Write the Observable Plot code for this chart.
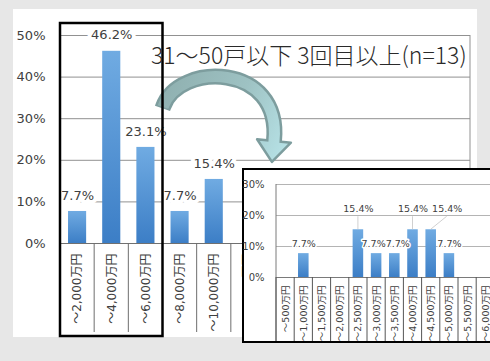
<!DOCTYPE html>
<html><head><meta charset="utf-8">
<script src="https://cdn.jsdelivr.net/npm/d3@7"></script>
<script src="https://cdn.jsdelivr.net/npm/@observablehq/plot@0.6"></script>
<style>
html,body{margin:0;padding:0;background:#e7e7e7;}
#wrap{position:relative;width:490px;height:361px;overflow:hidden;background:#e7e7e7;}
#panel{position:absolute;left:13px;top:9px;width:464px;height:328px;background:#fff;}
#main{position:absolute;left:0;top:0;}
#title{position:absolute;left:151px;top:42px;font:300 23px/24px "Noto Sans CJK JP",sans-serif;color:#2a2a2a;white-space:nowrap;}
#inset{position:absolute;left:242px;top:168px;width:260px;height:175px;box-sizing:border-box;border:2px solid #000;background:#fff;}
#inset svg{display:block;}
</style></head><body>
<div id="wrap"><div id="panel"></div><div id="main"></div><div id="title"></div><div id="inset"></div></div>
<script>
// ---- data ----
const titleText = "31～50戸以下 3回目以上(n=13)";
const mainCategories = ["～2,000万円","～4,000万円","～6,000万円","～8,000万円","～10,000万円","～12,000万円","～14,000万円","～16,000万円","～18,000万円","～20,000万円","～22,000万円","22,000万円超"];
const mainValues = [7.7, 46.2, 23.1, 7.7, 15.4, 0, 0, 0, 0, 0, 0, 0];
const mainTicks = [0, 10, 20, 30, 40, 50];
const insetCategories = ["～500万円","～1,000万円","～1,500万円","～2,000万円","～2,500万円","～3,000万円","～3,500万円","～4,000万円","～4,500万円","～5,000万円","～5,500万円","～6,000万円"];
const insetValues = [0, 7.7, 0, 0, 15.4, 7.7, 7.7, 15.4, 15.4, 7.7, 0, 0];
const insetTicks = [0, 10, 20, 30];

// ---- styling ----
const FONT = '"DejaVu Sans","Noto Sans CJK JP",sans-serif';
const pct = v => v.toFixed(1) + "%";
// label nudges in the inset (pixels): [dx, dy]
const insetLabelNudge = {"～3,000万円": [-3, -10], "～3,500万円": [3, -10], "～4,500万円": [16, -21]};
const insetDefaultDy = v => (v >= 10 ? -21 : -10);

document.getElementById("title").textContent = titleText;

function gradientDefs(id, top, bottom) {
  return () => {
    const defs = d3.create("svg:defs");
    const g = defs.append("linearGradient").attr("id", id)
      .attr("x1", 0).attr("y1", 0).attr("x2", 0).attr("y2", 1);
    g.append("stop").attr("offset", "0%").attr("stop-color", top);
    g.append("stop").attr("offset", "100%").attr("stop-color", bottom);
    return defs.node();
  };
}

function bandInfo(xs, cats, pad) {
  let step = xs.step, bw = xs.bandwidth;
  if (step == null) step = xs.apply(cats[1]) - xs.apply(cats[0]);
  if (bw == null) bw = step * (1 - pad);
  const bounds = cats.map(c => xs.apply(c) - (step - bw) / 2);
  bounds.push(bounds[bounds.length - 1] + step);
  return {step, bw, bounds};
}

// ---- main chart ----
const mainRows = mainCategories.map((c, i) => ({cat: c, value: mainValues[i]}));
const MAIN_PAD = 0.47;
const mainPlot = Plot.plot({
  width: 490, height: 361,
  marginLeft: 60, marginRight: 20, marginTop: 35, marginBottom: 118,
  style: {background: "transparent", fontFamily: FONT, fontSize: "13px", color: "#404040", overflow: "visible"},
  x: {domain: mainCategories, paddingInner: MAIN_PAD, paddingOuter: MAIN_PAD / 2, round: false, label: null},
  y: {domain: [0, 50], label: null},
  marks: [
    gradientDefs("mainBar", "#70abe2", "#3c7ec6"),
    Plot.gridY(mainTicks, {stroke: "#919191", strokeOpacity: 1}),
    Plot.barY(mainRows, {x: "cat", y: "value", fill: "url(#mainBar)"}),
    Plot.ruleY([0], {stroke: "#707070"}),
    Plot.text(mainRows.filter(d => d.value > 0), {x: "cat", y: "value", text: d => pct(d.value), dy: -16, fontSize: 13, fill: "#404040", stroke: "white", strokeWidth: 8, paintOrder: "stroke"}),
    Plot.axisY(mainTicks, {tickSize: 0, tickPadding: 15, tickFormat: d => d + "%", fontSize: 13, label: null}),
    Plot.axisX({tickRotate: -90, tickSize: 0, tickPadding: 10, fontSize: 12, label: null})
  ]
});
document.getElementById("main").appendChild(mainPlot);

{
  const xs = mainPlot.scale("x"), ys = mainPlot.scale("y");
  const {bounds} = bandInfo(xs, mainCategories, MAIN_PAD);
  const svg = d3.select(mainPlot);
  const y0 = ys.apply(0), yTop = ys.apply(50);
  const g = svg.append("g");
  // plot area side borders
  g.append("line").attr("x1", bounds[0]).attr("x2", bounds[0]).attr("y1", yTop).attr("y2", y0).attr("stroke", "#919191");
  g.append("line").attr("x1", bounds[bounds.length-1]).attr("x2", bounds[bounds.length-1]).attr("y1", yTop).attr("y2", y0).attr("stroke", "#919191");
  // category separators
  g.selectAll(".sep").data(bounds).join("line")
    .attr("x1", d => d).attr("x2", d => d).attr("y1", y0).attr("y2", y0 + 89)
    .attr("stroke", "#6e6e6e");

  // curved arrow
  const defs = svg.append("defs");
  const ag = defs.append("linearGradient").attr("id", "arrowGrad").attr("gradientUnits", "userSpaceOnUse")
    .attr("x1", 160).attr("y1", 90).attr("x2", 285).attr("y2", 150);
  ag.append("stop").attr("offset", "0%").attr("stop-color", "#8fb0b0");
  ag.append("stop").attr("offset", "55%").attr("stop-color", "#9ec2c3");
  ag.append("stop").attr("offset", "100%").attr("stop-color", "#b6e1e5");
  const P0 = [163, 107], P1 = [178, 62], P2 = [282, 62], P3 = [274, 141];
  const norm = v => { const l = Math.hypot(v[0], v[1]); return [v[0]/l, v[1]/l]; };
  const dS = norm([P1[0]-P0[0], P1[1]-P0[1]]);
  const dE = norm([P3[0]-P2[0], P3[1]-P2[1]]);
  const nE = [-dE[1], dE[0]];
  const pt = p => p[0].toFixed(1) + "," + p[1].toFixed(1);
  const tailOut = [P0[0] - 1.5*dS[0], P0[1] - 1.5*dS[1]];
  const headIn = [P3[0] + 4*dE[0], P3[1] + 4*dE[1]];
  const OUT = "#7d9d9e";
  g.append("path").attr("d", `M${pt(tailOut)}L${pt(P0)}C${pt(P1)} ${pt(P2)} ${pt(P3)}`)
    .attr("fill", "none").attr("stroke", OUT).attr("stroke-width", 16);
  const hb1 = [P3[0] + 17*nE[0], P3[1] + 17*nE[1]];
  const hb2 = [P3[0] - 17*nE[0], P3[1] - 17*nE[1]];
  const tip = [P3[0] + 21*dE[0], P3[1] + 21*dE[1]];
  g.append("path").attr("d", `M${pt(hb1)}L${pt(tip)}L${pt(hb2)}Z`)
    .attr("fill", "url(#arrowGrad)").attr("stroke", OUT).attr("stroke-width", 2.5).attr("stroke-linejoin", "round");
  g.append("path").attr("d", `M${pt(P0)}C${pt(P1)} ${pt(P2)} ${pt(P3)}L${pt(headIn)}`)
    .attr("fill", "none").attr("stroke", "url(#arrowGrad)").attr("stroke-width", 11);

  // highlight rectangle around the first three categories
  g.append("rect").attr("x", bounds[0]).attr("y", yTop - 12)
    .attr("width", bounds[3] - bounds[0]).attr("height", (y0 + 93) - (yTop - 12))
    .attr("fill", "none").attr("stroke", "#000").attr("stroke-width", 2.5);
}

// ---- inset chart ----
const insetRows = insetCategories.map((c, i) => ({cat: c, value: insetValues[i]}));
const INSET_PAD = 0.42;
const labelMarks = insetRows.filter(d => d.value > 0).map(d => {
  const [dx, dy] = insetLabelNudge[d.cat] || [0, insetDefaultDy(d.value)];
  return Plot.text([d], {x: "cat", y: "value", text: r => pct(r.value), dx, dy, fontSize: 9.5, fill: "#404040", stroke: "white", strokeWidth: 3, paintOrder: "stroke"});
});
const insetPlot = Plot.plot({
  width: 256, height: 171,
  marginLeft: 32, marginRight: 5.6, marginTop: 14, marginBottom: 64,
  style: {background: "transparent", fontFamily: FONT, fontSize: "10px", color: "#404040", overflow: "visible"},
  x: {domain: insetCategories, paddingInner: INSET_PAD, paddingOuter: INSET_PAD / 2, round: false, label: null},
  y: {domain: [0, 30], label: null},
  marks: [
    gradientDefs("insetBar", "#70abe2", "#3c7ec6"),
    Plot.gridY(insetTicks, {stroke: "#b4b4b4", strokeOpacity: 1}),
    Plot.barY(insetRows, {x: "cat", y: "value", fill: "url(#insetBar)"}),
    Plot.ruleY([0], {stroke: "#7a7a7a"}),
    ...labelMarks,
    Plot.axisY(insetTicks, {tickSize: 0, tickPadding: 12, tickFormat: d => d + "%", fontSize: 10, label: null}),
    Plot.axisX({tickRotate: -90, tickSize: 0, tickPadding: 8, fontSize: 9.5, label: null})
  ]
});
document.getElementById("inset").appendChild(insetPlot);

{
  const xs = insetPlot.scale("x"), ys = insetPlot.scale("y");
  const {bw, bounds} = bandInfo(xs, insetCategories, INSET_PAD);
  const svg = d3.select(insetPlot);
  const y0 = ys.apply(0), yTop = ys.apply(30);
  const g = svg.append("g");
  g.append("line").attr("x1", bounds[0]).attr("x2", bounds[0]).attr("y1", yTop).attr("y2", 171).attr("stroke", "#7a7a7a");
  g.selectAll(".sep").data(bounds).join("line")
    .attr("x1", d => d).attr("x2", d => d).attr("y1", y0).attr("y2", 171)
    .attr("stroke", "#555");
  // leader lines for raised labels
  g.selectAll(".lead").data(insetRows.filter(d => d.value >= 10)).join("line")
    .attr("x1", d => xs.apply(d.cat) + bw / 2)
    .attr("y1", d => ys.apply(d.value))
    .attr("x2", d => xs.apply(d.cat) + bw / 2 + ((insetLabelNudge[d.cat] || [0])[0]))
    .attr("y2", d => ys.apply(d.value) - 13)
    .attr("stroke", "#c4c4c4").attr("stroke-width", 0.8);
}
</script>
</body></html>
